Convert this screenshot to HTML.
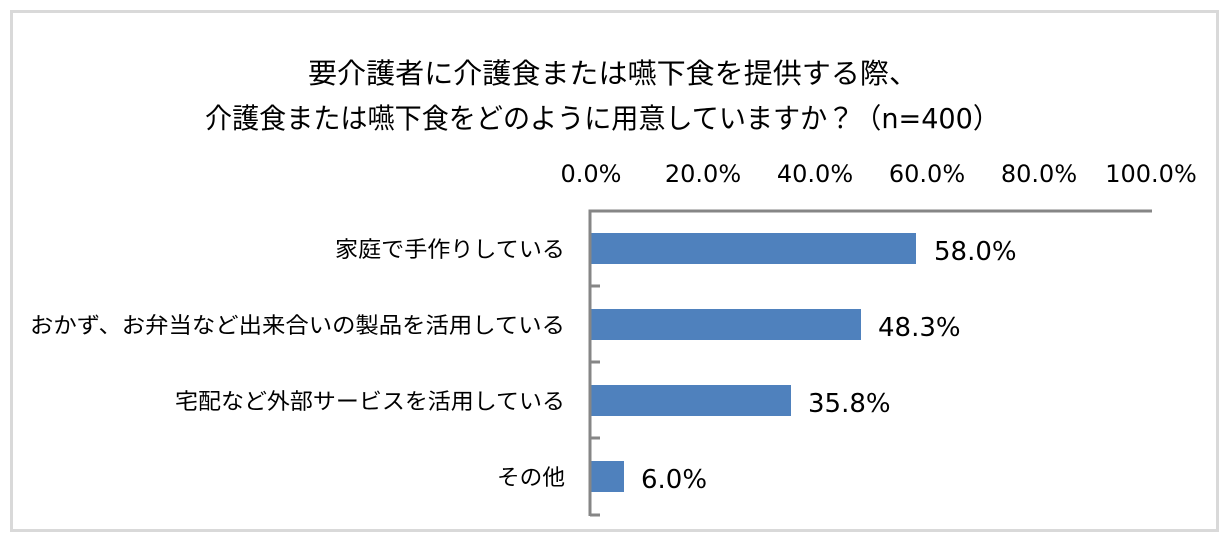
<!DOCTYPE html>
<html><head><meta charset="utf-8"><style>
body{margin:0;background:#fff;}
svg text{font-family:"DejaVu Sans","Noto Sans CJK JP",sans-serif;fill:#000;}
</style></head><body>
<svg width="1228" height="543" xmlns="http://www.w3.org/2000/svg">
<rect x="0" y="0" width="1228" height="543" fill="#fff"/>
<rect x="11.5" y="11.5" width="1206" height="519" fill="none" stroke="#d9d9d9" stroke-width="3"/>
<text x="308" y="83" font-size="28" textLength="610" lengthAdjust="spacingAndGlyphs">要介護者に介護食または嚥下食を提供する際、</text>
<text x="205" y="128" font-size="28" textLength="795" lengthAdjust="spacingAndGlyphs">介護食または嚥下食をどのように用意していますか？（n=400）</text>
<g font-size="24" text-anchor="middle">
<text x="591" y="182">0.0%</text><text x="703" y="182">20.0%</text><text x="815" y="182">40.0%</text>
<text x="927" y="182">60.0%</text><text x="1039" y="182">80.0%</text><text x="1151" y="182">100.0%</text>
</g>
<g fill="#4f81bd">
<rect x="591" y="233" width="325" height="31"/>
<rect x="591" y="309" width="270" height="31"/>
<rect x="591" y="385" width="200" height="31"/>
<rect x="591" y="461" width="33" height="31"/>
</g>
<g stroke="#868686" stroke-width="3" fill="none">
<path d="M1152 211 H590 V516"/>
<path d="M590 286 H600 M590 362 H600 M590 438 H600 M590 515 H600"/>
</g>
<g font-size="22">
<text x="335" y="257" textLength="230" lengthAdjust="spacingAndGlyphs">家庭で手作りしている</text>
<text x="30" y="333" textLength="535" lengthAdjust="spacingAndGlyphs">おかず、お弁当など出来合いの製品を活用している</text>
<text x="175" y="409" textLength="390" lengthAdjust="spacingAndGlyphs">宅配など外部サービスを活用している</text>
<text x="497" y="485" textLength="68" lengthAdjust="spacingAndGlyphs">その他</text>
</g>
<g font-size="26">
<text x="934" y="260">58.0%</text>
<text x="878" y="336">48.3%</text>
<text x="808" y="412">35.8%</text>
<text x="641" y="488">6.0%</text>
</g>
</svg>
</body></html>
